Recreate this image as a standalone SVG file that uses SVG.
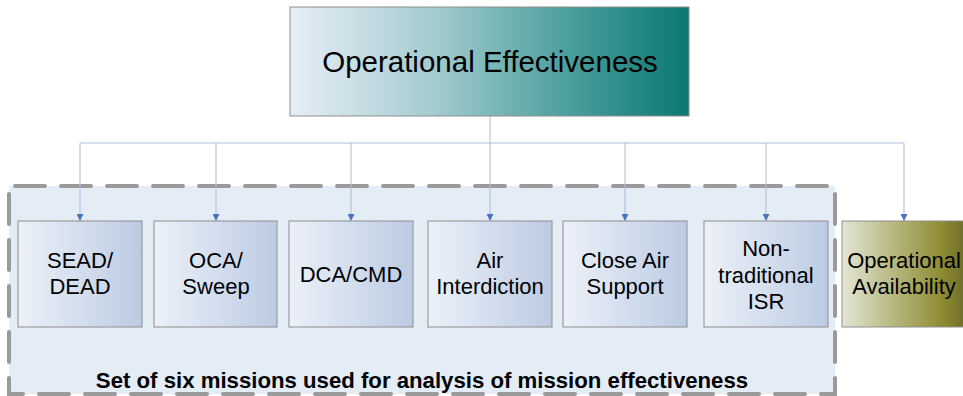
<svg xmlns="http://www.w3.org/2000/svg" width="963" height="396" viewBox="0 0 963 396">
<defs>
<linearGradient id="gTop" x1="0" y1="0" x2="1" y2="0">
<stop offset="0" stop-color="#e8eef8"/>
<stop offset="0.35" stop-color="#a6cdd0"/>
<stop offset="0.7" stop-color="#4a9e9c"/>
<stop offset="1" stop-color="#0b7870"/>
</linearGradient>
<linearGradient id="gBox" x1="0" y1="0" x2="1" y2="0">
<stop offset="0" stop-color="#ecf1f9"/>
<stop offset="1" stop-color="#bccbe3"/>
</linearGradient>
<linearGradient id="gOA" x1="0" y1="0" x2="1" y2="0">
<stop offset="0" stop-color="#e2e6d2"/>
<stop offset="0.45" stop-color="#b4b47a"/>
<stop offset="0.8" stop-color="#8e8c32"/>
<stop offset="1" stop-color="#6e6c2a"/>
</linearGradient>
<marker id="arr" viewBox="0 0 10 10" refX="10" refY="5" markerWidth="7" markerHeight="7" markerUnits="userSpaceOnUse" orient="auto">
<path d="M0,0 L10,5 L0,10 Z" fill="#4a72be"/>
</marker>
<style>
.box{fill:url(#gBox);stroke:#8e8e8e;stroke-width:1}
.t{font-family:"Liberation Sans",Arial,sans-serif;font-size:22px;fill:#000;text-anchor:middle}
.c{fill:none;stroke:#a9bcd8;stroke-width:1}
</style>
</defs>
<g id="group-frame">
<rect x="9" y="186" width="826" height="208" fill="#e4ecf6" stroke="#9a9a9a" stroke-width="4" stroke-dasharray="30 16" stroke-dashoffset="-6" stroke-linecap="round"/>
<text x="422" y="388" style="font-family:'Liberation Sans',Arial,sans-serif;font-size:22.2px;font-weight:bold;text-anchor:middle">Set of six missions used for analysis of mission effectiveness</text>
</g>
<g id="connectors">
<path class="c" d="M490,116 V143"/>
<path class="c" d="M80,143 H904"/>
<path class="c" d="M80,143 V221" marker-end="url(#arr)"/>
<path class="c" d="M216,143 V221" marker-end="url(#arr)"/>
<path class="c" d="M351,143 V221" marker-end="url(#arr)"/>
<path class="c" d="M490,143 V221" marker-end="url(#arr)"/>
<path class="c" d="M625,143 V221" marker-end="url(#arr)"/>
<path class="c" d="M766,143 V221" marker-end="url(#arr)"/>
<path class="c" d="M904,143 V221" marker-end="url(#arr)"/>
</g>
<g id="node-oe">
<rect x="290" y="7" width="399" height="109" fill="url(#gTop)" stroke="#8e8e8e" stroke-width="1"/>
<text x="490" y="72" style="font-family:'Liberation Sans',Arial,sans-serif;font-size:29.5px;text-anchor:middle">Operational Effectiveness</text>
</g>
<g id="node-sead">
<rect class="box" x="18" y="221" width="124" height="106"/>
<text class="t" x="80" y="268">SEAD/</text>
<text class="t" x="80" y="294">DEAD</text>
</g>
<g id="node-oca">
<rect class="box" x="154" y="221" width="123" height="106"/>
<text class="t" x="216" y="268">OCA/</text>
<text class="t" x="216" y="294">Sweep</text>
</g>
<g id="node-dca">
<rect class="box" x="289" y="221" width="124" height="106"/>
<text class="t" x="351" y="282">DCA/CMD</text>
</g>
<g id="node-ai">
<rect class="box" x="428" y="221" width="124" height="106"/>
<text class="t" x="490" y="268">Air</text>
<text class="t" x="490" y="294">Interdiction</text>
</g>
<g id="node-cas">
<rect class="box" x="563" y="221" width="124" height="106"/>
<text class="t" x="625" y="268">Close Air</text>
<text class="t" x="625" y="294">Support</text>
</g>
<g id="node-isr">
<rect class="box" x="704" y="221" width="124" height="106"/>
<text class="t" x="766" y="256">Non-</text>
<text class="t" x="766" y="283">traditional</text>
<text class="t" x="766" y="309">ISR</text>
</g>
<g id="node-oa">
<rect x="842" y="221" width="124" height="106" fill="url(#gOA)" stroke="#8e8e8e" stroke-width="1"/>
<text class="t" x="904" y="268">Operational</text>
<text class="t" x="904" y="294">Availability</text>
</g>
</svg>
